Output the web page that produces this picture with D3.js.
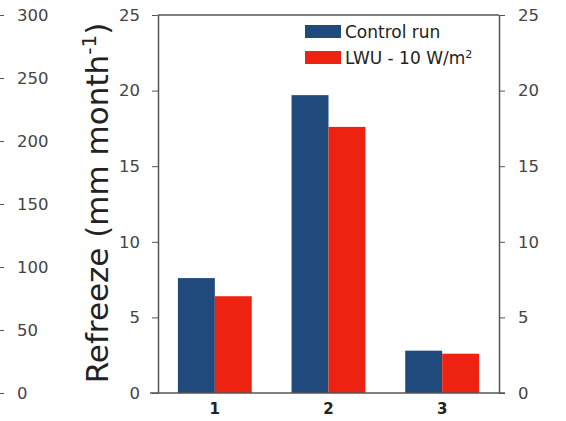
<!DOCTYPE html>
<html><head><meta charset="utf-8">
<script src="https://cdn.jsdelivr.net/npm/d3@7"></script>
<style>body{margin:0;background:#fff}svg{display:block}</style>
</head><body>
<svg id="c" width="566" height="421"></svg>
<script>
const categories = ["1", "2", "3"];
const seriesNames = ["Control run", "LWU - 10 W/m²"];
const controlRun = [7.6, 19.7, 2.8];
const lwu10 = [6.4, 17.6, 2.6];
const yTicks = [0, 5, 10, 15, 20, 25];
const neighbourTicks = [0, 50, 100, 150, 200, 250, 300];
const colors = ["#1f4a7b", "#ee2210"];

const FONT = "DejaVu Sans, Verdana, sans-serif";
const svg = d3.select("#c");
const L = 158, R = 499, T = 15, B = 393;
const axisCol = "#555";
const y = d3.scaleLinear().domain([0, 25]).range([B, T]);
const x = d3.scaleBand().domain(categories).range([L, R]).paddingInner(0.35).paddingOuter(0.175);
const xs = d3.scaleBand().domain([0, 1]).range([0, x.bandwidth()]);

// neighbour panel axis (partially visible)
const yn = d3.scaleLinear().domain([0, 300]).range([B, T]);
const gn = svg.append("g").attr("transform", "translate(-2,0)")
  .call(d3.axisRight(yn).tickValues(neighbourTicks).tickSize(6).tickPadding(13));
gn.select(".domain").remove();
gn.selectAll("line").attr("stroke", axisCol);
gn.selectAll("text").attr("font-family", FONT).attr("font-size", 16.5).attr("fill", "#444");

// bars
const data = [controlRun, lwu10];
data.forEach((vals, si) => {
  svg.append("g").selectAll("rect").data(vals).join("rect")
    .attr("x", (d, i) => x(categories[i]) + xs(si))
    .attr("width", xs.bandwidth())
    .attr("y", d => y(d))
    .attr("height", d => y(0) - y(d))
    .attr("fill", colors[si]);
});

// axes
function styleAxis(g) {
  g.selectAll("line").attr("stroke", axisCol);
  g.select(".domain").attr("stroke", axisCol).attr("stroke-width", 1.5);
  g.selectAll("text").attr("font-family", FONT).attr("font-size", 16.5).attr("fill", "#444");
}
const gl = svg.append("g").attr("transform", `translate(${L},0)`)
  .call(d3.axisLeft(y).tickValues(yTicks).tickSize(6).tickSizeOuter(0).tickPadding(12));
styleAxis(gl);
const gr = svg.append("g").attr("transform", `translate(${R},0)`)
  .call(d3.axisRight(y).tickValues(yTicks).tickSize(6).tickSizeOuter(0).tickPadding(13));
styleAxis(gr);
// top frame
svg.append("line").attr("x1", L).attr("x2", R).attr("y1", T).attr("y2", T)
  .attr("stroke", axisCol).attr("stroke-width", 1.5);
// bottom axis
const gb = svg.append("g").attr("transform", `translate(0,${B})`)
  .call(d3.axisBottom(x).tickSize(0).tickPadding(10));
gb.select(".domain").attr("d", `M${L - 8},0H${R + 6}`).attr("stroke", axisCol).attr("stroke-width", 1.5);
gb.selectAll("text").attr("font-family", FONT).attr("font-size", 15)
  .attr("font-weight", "bold").attr("fill", "#222");

// y label
const yl = svg.append("text").attr("transform", `translate(108,203) rotate(-90)`)
  .attr("text-anchor", "middle").attr("font-family", FONT)
  .attr("font-size", 31).attr("fill", "#222");
yl.append("tspan").text("Refreeze (mm month");
yl.append("tspan").attr("font-size", 20).attr("dy", -12).text("-1");
yl.append("tspan").attr("dy", 12).text(")");

// legend
const lg = svg.append("g").attr("transform", "translate(305,25)");
seriesNames.forEach((n, i) => {
  const row = lg.append("g").attr("transform", `translate(0,${i * 26})`);
  row.append("rect").attr("width", 36).attr("height", 13).attr("fill", colors[i]);
  const t = row.append("text").attr("x", 40).attr("y", 13).attr("font-family", FONT)
    .attr("font-size", 17).attr("fill", "#222");
  if (i === 1) {
    t.append("tspan").text("LWU - 10 W/m");
    t.append("tspan").attr("font-size", 11).attr("dy", -6).text("2");
  } else t.text(n);
});
</script>
</body></html>
